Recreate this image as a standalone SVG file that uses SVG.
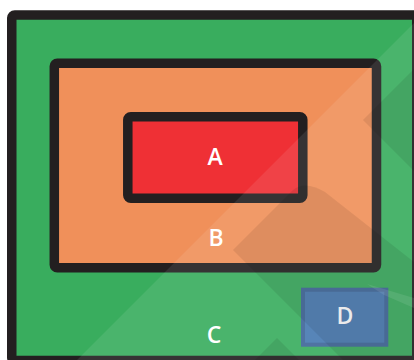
<svg xmlns="http://www.w3.org/2000/svg" width="414" height="360" viewBox="0 0 414 360">
  <style>
    .box { stroke: #231f20; stroke-width: 9.5; stroke-linejoin: round; }
    .lbl { font-family: "Open Sans", "Noto Sans", sans-serif; font-size: 23px; font-weight: 600; fill: #ffffff; text-anchor: middle; }
    .lite { fill: #ffffff; fill-opacity: 0.09; }
    .dark { fill: #000000; fill-opacity: 0.08; }
  </style>
  <rect width="414" height="360" fill="#ffffff"/>
  <g id="C">
    <rect class="box" x="11.75" y="15" width="405" height="345.5" rx="3" fill="#39ad5e"/>
  </g>
  <g id="B">
    <rect class="box" x="54.3" y="63.3" width="322.2" height="204.5" rx="3" fill="#f0905a"/>
  </g>
  <g id="A">
    <rect class="box" x="127.8" y="116.8" width="175" height="81.5" rx="3" fill="#ef3035"/>
  </g>
  <g id="D">
    <rect x="303" y="289.7" width="83.3" height="55" fill="#4779b1" stroke="#3e6699" stroke-width="4"/>
  </g>
  <g id="labels">
    <text class="lbl" x="215" y="164.5">A</text>
    <text class="lbl" x="216" y="246">B</text>
    <text class="lbl" x="214" y="343">C</text>
    <text class="lbl" x="345" y="324">D</text>
  </g>
  <g id="overlay">
    <polygon class="lite" points="77,360 414,23 414,360"/>
    <polygon class="dark" points="363,120 414,69 414,171"/>
    <path class="dark" d="M233,250 L293,190 Q305,180 325,192 L414,262 L414,360 L343,360 Z"/>
    <polygon class="dark" points="277,338 255,360 299,360"/>
    <polygon class="lite" points="367,284 414,298 414,308 384,295"/>
  </g>
  <g id="connectors"></g>
</svg>
